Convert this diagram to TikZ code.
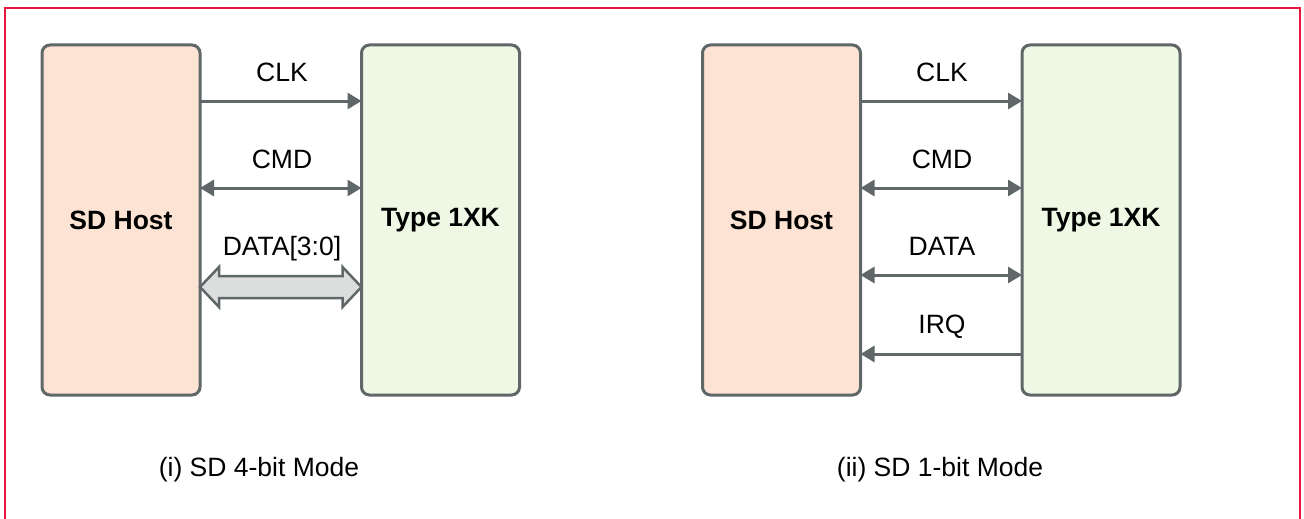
\documentclass[tikz,border=0pt]{standalone}
\usepackage{fontspec}
\setmainfont{Liberation Sans}
\usetikzlibrary{arrows.meta}
\definecolor{edge}{HTML}{5F6768}
\definecolor{hostfill}{HTML}{FDE3D3}
\definecolor{cardfill}{HTML}{EEF8E5}
\definecolor{busfill}{HTML}{DCDEDD}
\definecolor{frame}{HTML}{E8163C}
\tikzset{
  blk/.style={draw=edge, line width=3pt, rounded corners=8pt, minimum width=158pt, minimum height=350pt, inner sep=0pt, outer sep=0pt, font=\bfseries\fontsize{26.5}{31}\selectfont},
  hostbox/.style={blk, fill=hostfill},
  cardbox/.style={blk, fill=cardfill},
  sig/.style={draw=edge, line width=3pt, -{Triangle[length=14pt,width=16pt]}},
  bisig/.style={draw=edge, line width=3pt, {Triangle[length=14pt,width=16pt]}-{Triangle[length=14pt,width=16pt]}},
  lbl/.style={font=\fontsize{26.5}{31}\selectfont, inner sep=0pt},
  captxt/.style={font=\fontsize{26.5}{31}\selectfont, inner sep=0pt},
}
\begin{document}
\begin{tikzpicture}[x=1pt,y=-1pt]
\useasboundingbox (0,0) rectangle (1304,519);
\begin{scope}
\clip (0,0) rectangle (1304,519);
\draw[frame, line width=2pt] (4.5,8) rectangle (1300,540);
\end{scope}
% left panel
\node[hostbox] (h1) at (121,220) {SD Host};
\node[cardbox] (c1) at (440.5,220) {Type 1XK};
\draw[sig] ([yshift=119pt]h1.east) -- ([yshift=119pt]c1.west);
\draw[bisig] ([yshift=32pt]h1.east) -- ([yshift=32pt]c1.west);
\coordinate (da) at ([yshift=-67pt]h1.east);
\coordinate (db) at ([yshift=-67pt]c1.west);
\draw[draw=edge, fill=busfill, line width=2.5pt, line join=miter]
  (da) -- ++(19,-20) -- ++(0,9) -- ([xshift=-19pt,yshift=11pt]db) -- ++(0,-9) -- (db)
  -- ++(-19,20) -- ++(0,-9) -- ([xshift=19pt,yshift=-11pt]da) -- ++(0,9) -- cycle;
\node[lbl] (l1) at (282,72) {CLK};
\node[lbl] (l2) at (282,159) {CMD};
\node[lbl] (l3) at (282,249) {DATA[3:0]};
\node[captxt] (t1) at (259,470) {(i) SD 4-bit Mode};
% right panel
\node[hostbox] (h2) at (781.5,220) {SD Host};
\node[cardbox] (c2) at (1101,220) {Type 1XK};
\draw[sig] ([yshift=119pt]h2.east) -- ([yshift=119pt]c2.west);
\draw[bisig] ([yshift=32pt]h2.east) -- ([yshift=32pt]c2.west);
\draw[bisig] ([yshift=-55pt]h2.east) -- ([yshift=-55pt]c2.west);
\draw[sig] ([yshift=-134pt]c2.west) -- ([yshift=-134pt]h2.east);
\node[lbl] (r1) at (942,72) {CLK};
\node[lbl] (r2) at (942,159) {CMD};
\node[lbl] (r3) at (942,246) {DATA};
\node[lbl] (r4) at (942,327) {IRQ};
\node[captxt] (t2) at (940,470) {(ii) SD 1-bit Mode};
\end{tikzpicture}
\end{document}
